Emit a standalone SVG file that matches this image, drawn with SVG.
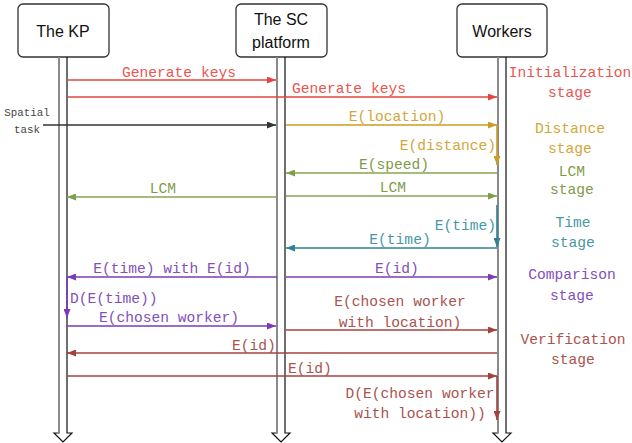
<svg xmlns="http://www.w3.org/2000/svg" width="632" height="443" viewBox="0 0 632 443">
<style>
.box{fill:#fff;stroke:#333;stroke-width:1.3}
.nt{font-family:"Liberation Sans","Noto Sans",sans-serif;font-size:16px;fill:#111;text-anchor:middle}
.lt{font-family:"Liberation Mono","DejaVu Sans Mono",monospace;font-size:14.6px;text-anchor:middle}
.life{fill:none;stroke:#111;stroke-width:1.2}
.lg{stroke:#8a8a8a;stroke-width:2}
.c{fill:none;stroke-width:1.6}
.red{stroke:#E4463E}.gold{stroke:#C99E22}.green{stroke:#87A552}.teal{stroke:#2F8198}.purple{stroke:#7A3DB4}.brown{stroke:#A5423D}.blk{stroke:#333}
.tred{fill:#E8564F}.tgold{fill:#D2A73A}.tgreen{fill:#7E9B48}.tteal{fill:#4797A8}.tpurple{fill:#8250BA}.tbrown{fill:#A8534E}
</style>
<defs>
<marker id="ared" markerUnits="userSpaceOnUse" markerWidth="9" markerHeight="7" refX="9" refY="3.5" orient="auto"><path d="M0,0 L9,3.5 L0,7z" fill="#E4463E"/></marker>
<marker id="agold" markerUnits="userSpaceOnUse" markerWidth="9" markerHeight="7" refX="9" refY="3.5" orient="auto"><path d="M0,0 L9,3.5 L0,7z" fill="#C99E22"/></marker>
<marker id="agreen" markerUnits="userSpaceOnUse" markerWidth="9" markerHeight="7" refX="9" refY="3.5" orient="auto"><path d="M0,0 L9,3.5 L0,7z" fill="#7FA04A"/></marker>
<marker id="ateal" markerUnits="userSpaceOnUse" markerWidth="9" markerHeight="7" refX="9" refY="3.5" orient="auto"><path d="M0,0 L9,3.5 L0,7z" fill="#2F8198"/></marker>
<marker id="apurple" markerUnits="userSpaceOnUse" markerWidth="9" markerHeight="7" refX="9" refY="3.5" orient="auto"><path d="M0,0 L9,3.5 L0,7z" fill="#7A3DB4"/></marker>
<marker id="abrown" markerUnits="userSpaceOnUse" markerWidth="9" markerHeight="7" refX="9" refY="3.5" orient="auto"><path d="M0,0 L9,3.5 L0,7z" fill="#A5423D"/></marker>
<marker id="ablk" markerUnits="userSpaceOnUse" markerWidth="9" markerHeight="7" refX="9" refY="3.5" orient="auto"><path d="M0,0 L9,3.5 L0,7z" fill="#333"/></marker>
</defs>

<g id="kp">
<rect class="box" x="18" y="4" width="91" height="53" rx="5"/>
<text class="nt" x="63" y="37">The KP</text>
<path class="life" d="M59,57 V433 H54 L63,442 L72,433 H67 V57"/>
<line class="lg" x1="59" y1="57" x2="59" y2="433"/>
</g>
<g id="sc">
<rect class="box" x="236" y="4" width="91" height="53" rx="5"/>
<text class="nt" x="281" y="25">The SC</text>
<text class="nt" x="281" y="48">platform</text>
<path class="life" d="M277,57 V433 H272 L281,442 L290,433 H285 V57"/>
<line class="lg" x1="277" y1="57" x2="277" y2="433"/>
</g>
<g id="workers">
<rect class="box" x="457" y="4" width="90" height="53" rx="5"/>
<text class="nt" x="502" y="37">Workers</text>
<path class="life" d="M498,57 V433 H493 L502,442 L511,433 H506 V57"/>
<line class="lg" x1="498" y1="57" x2="498" y2="433"/>
</g>

<g id="connectors">
<line class="c red" x1="67" y1="80" x2="276" y2="80" marker-end="url(#ared)"/>
<line class="c red" x1="67" y1="97" x2="497" y2="97" marker-end="url(#ared)"/>
<line class="c blk" x1="43" y1="125" x2="276" y2="125" marker-end="url(#ablk)"/>
<line class="c gold" x1="286" y1="125" x2="497" y2="125" marker-end="url(#agold)"/>
<line class="c gold" x1="497" y1="125" x2="497" y2="165" marker-end="url(#agold)"/>
<line class="c green" x1="497" y1="173" x2="286" y2="173" marker-end="url(#agreen)"/>
<line class="c green" x1="277" y1="197" x2="67" y2="197" marker-end="url(#agreen)"/>
<line class="c green" x1="286" y1="196" x2="497" y2="196" marker-end="url(#agreen)"/>
<line class="c teal" x1="497" y1="205" x2="497" y2="247" marker-end="url(#ateal)"/>
<line class="c teal" x1="497" y1="248" x2="286" y2="248" marker-end="url(#ateal)"/>
<line class="c purple" x1="277" y1="277" x2="67" y2="277" marker-end="url(#apurple)"/>
<line class="c purple" x1="286" y1="277" x2="497" y2="277" marker-end="url(#apurple)"/>
<line class="c purple" x1="67" y1="277" x2="67" y2="318" marker-end="url(#apurple)"/>
<line class="c purple" x1="67" y1="326" x2="276" y2="326" marker-end="url(#apurple)"/>
<line class="c brown" x1="286" y1="330" x2="497" y2="330" marker-end="url(#abrown)"/>
<line class="c brown" x1="497" y1="353" x2="67" y2="353" marker-end="url(#abrown)"/>
<line class="c brown" x1="67" y1="376" x2="497" y2="376" marker-end="url(#abrown)"/>
<line class="c brown" x1="497" y1="376" x2="497" y2="420" marker-end="url(#abrown)"/>
</g>

<g id="labels">
<text class="lt tred" x="179" y="77">Generate keys</text>
<text class="lt tred" x="349" y="93">Generate keys</text>
<text class="lt" x="27" y="116" style="font-size:10.8px;fill:#444">Spatial</text>
<text class="lt" x="27" y="133" style="font-size:10.8px;fill:#444">task</text>
<text class="lt tgold" x="397" y="121">E(location)</text>
<text class="lt tgold" x="496" y="150" style="text-anchor:end">E(distance)</text>
<text class="lt tgreen" x="394" y="169">E(speed)</text>
<text class="lt tgreen" x="163" y="193">LCM</text>
<text class="lt tgreen" x="393" y="192">LCM</text>
<text class="lt tteal" x="496" y="230" style="text-anchor:end">E(time)</text>
<text class="lt tteal" x="400" y="244">E(time)</text>
<text class="lt tpurple" x="172" y="273">E(time) with E(id)</text>
<text class="lt tpurple" x="397" y="273">E(id)</text>
<text class="lt tpurple" x="70" y="303" style="text-anchor:start">D(E(time))</text>
<text class="lt tpurple" x="169" y="322">E(chosen worker)</text>
<text class="lt tbrown" x="400" y="306">E(chosen worker</text>
<text class="lt tbrown" x="400" y="327">with location)</text>
<text class="lt tbrown" x="254" y="350">E(id)</text>
<text class="lt tbrown" x="310" y="373">E(id)</text>
<text class="lt tbrown" x="420" y="398">D(E(chosen worker</text>
<text class="lt tbrown" x="420" y="418">with location))</text>
</g>

<g id="stages">
<text class="lt tred" x="570" y="77">Initialization</text>
<text class="lt tred" x="570" y="97">stage</text>
<text class="lt tgold" x="570" y="133">Distance</text>
<text class="lt tgold" x="570" y="153">stage</text>
<text class="lt tgreen" x="572" y="176">LCM</text>
<text class="lt tgreen" x="572" y="194">stage</text>
<text class="lt tteal" x="573" y="227">Time</text>
<text class="lt tteal" x="573" y="247">stage</text>
<text class="lt tpurple" x="572" y="279">Comparison</text>
<text class="lt tpurple" x="572" y="300">stage</text>
<text class="lt tbrown" x="573" y="344">Verification</text>
<text class="lt tbrown" x="573" y="364">stage</text>
</g>
</svg>
